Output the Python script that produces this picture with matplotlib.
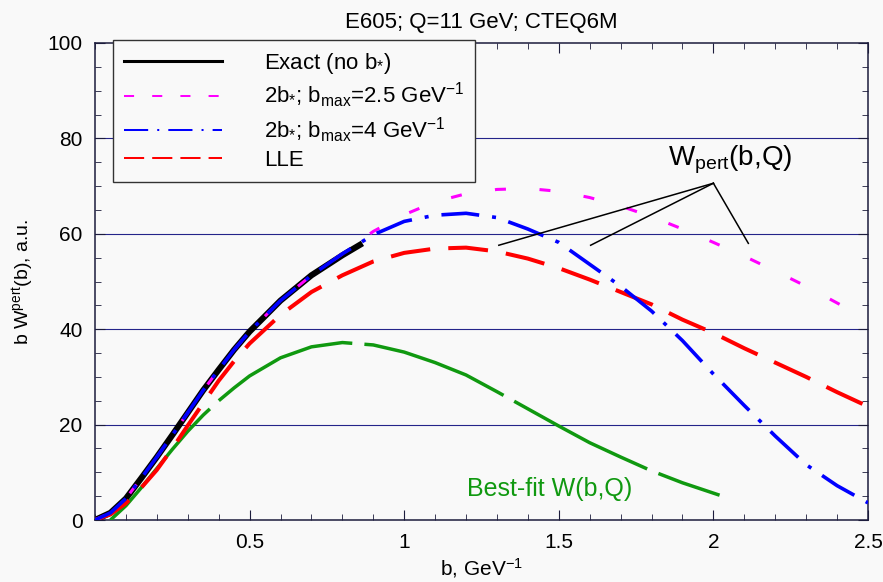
import numpy as np
import matplotlib
matplotlib.use("Agg")
import matplotlib.pyplot as plt
from matplotlib.lines import Line2D
from matplotlib.ticker import MultipleLocator

plt.rcParams['font.family'] = ['Liberation Sans', 'DejaVu Sans']
plt.rcParams['mathtext.default'] = 'regular'

# exact calculation (no b_*), only up to b ~ 0.87
b_exact = [0.0, 0.05, 0.1, 0.15, 0.2, 0.25, 0.3, 0.35, 0.4, 0.45, 0.5, 0.6, 0.7, 0.8, 0.865]
w_exact = [0.0, 1.5, 4.5, 8.8, 13.2, 17.8, 22.5, 27.2, 31.5, 35.7, 39.5, 46.0, 51.3, 55.5, 58.0]

b_grid = [0.0, 0.05, 0.1, 0.15, 0.2, 0.25, 0.3, 0.35, 0.4, 0.45, 0.5, 0.6, 0.7, 0.8, 0.9,
          1.0, 1.1, 1.2, 1.3, 1.4, 1.5, 1.6, 1.7, 1.8, 1.9, 2.0, 2.1, 2.2, 2.3, 2.4, 2.5]
# 2b_*, bmax = 2.5 GeV^-1
w_bmax25 = [0.0, 1.5, 4.5, 8.8, 13.2, 17.8, 22.5, 27.2, 31.5, 35.7, 39.5, 46.0, 51.3, 55.8, 60.5,
            64.0, 66.7, 68.4, 69.3, 69.5, 68.9, 67.6, 65.8, 63.6, 61.0, 58.2, 55.3, 52.2, 49.0, 45.5, 42.0]
# 2b_*, bmax = 4 GeV^-1
w_bmax4 = [0.0, 1.5, 4.5, 8.8, 13.2, 17.8, 22.5, 27.2, 31.5, 35.7, 39.5, 46.0, 51.3, 55.8, 59.8,
           62.6, 63.9, 64.3, 63.4, 61.0, 58.2, 53.6, 49.0, 43.8, 37.6, 30.6, 24.0, 17.6, 11.6, 7.2, 3.6]
# leading-log expansion
w_lle = [0.0, 1.2, 3.5, 6.8, 10.5, 15.0, 19.8, 24.5, 29.2, 33.3, 37.0, 43.0, 47.8, 51.3, 54.2,
         56.0, 56.9, 57.1, 56.3, 54.8, 52.8, 50.4, 47.8, 45.2, 42.0, 39.2, 36.0, 33.0, 30.0, 26.8, 23.8]

# best-fit W(b,Q)
b_fit = [0.05, 0.1, 0.15, 0.2, 0.25, 0.3, 0.35, 0.4, 0.45, 0.5, 0.6, 0.7, 0.8, 0.9, 1.0,
         1.1, 1.2, 1.3, 1.4, 1.5, 1.6, 1.7, 1.8, 1.9, 2.02]
w_fit = [0.0, 3.0, 6.8, 10.8, 14.8, 18.6, 22.0, 25.0, 27.7, 30.2, 34.0, 36.3, 37.2, 36.7, 35.2,
         33.0, 30.4, 26.9, 23.3, 19.7, 16.2, 13.2, 10.3, 7.8, 5.2]

# W_pert label and where its pointer lines end
label_pos = (2.055, 74.4)
pointer_root = (2.0, 70.6)
pointer_ends = [(1.306, 57.6), (1.603, 57.6), (2.113, 58.0)]

bg = '#f9f9f9'
navy = '#24248a'
c_mag, c_blue, c_red, c_green = '#ff00ff', '#0000ff', '#ff0000', '#109910'

fig = plt.figure(figsize=(8.83, 5.82), dpi=100, facecolor=bg)
ax = fig.add_axes([95 / 883, 1 - 520 / 582, 773 / 883, 477 / 582], facecolor=bg)

for y in [20, 40, 60, 80]:
    ax.axhline(y, color=navy, lw=0.8, zorder=1)

# black underneath, the dashed curves sit on top of it
ax.plot(b_exact, w_exact, color='black', lw=4.4, solid_capstyle='butt', zorder=2)
ax.plot(b_fit, w_fit, color=c_green, lw=2.5, dashes=(43, 3.5), zorder=3)
ax.plot(b_grid, w_lle, color=c_red, lw=2.9, dashes=(9.9, 4.5), zorder=3)
ax.plot(b_grid, w_bmax25, color=c_mag, lw=2.2, dashes=(3.6, 11), zorder=4)
ax.plot(b_grid, w_bmax4, color=c_blue, lw=2.6, dashes=(10.5, 3.6, 1.1, 3.6), zorder=4)

for end in pointer_ends:
    ax.plot([pointer_root[0], end[0]], [pointer_root[1], end[1]], color='black', lw=1.1, zorder=6)
ax.text(label_pos[0], label_pos[1], 'W$_{pert}$(b,Q)', fontsize=20, ha='center', va='baseline')
ax.text(1.47, 5.0, 'Best-fit W(b,Q)', fontsize=18, color=c_green, ha='center', va='baseline')

ax.set_xlim(0, 2.5)
ax.set_ylim(0, 100)
ax.set_xticks([0.5, 1, 1.5, 2, 2.5])
ax.set_xticklabels(['0.5', '1', '1.5', '2', '2.5'])
ax.set_yticks([0, 20, 40, 60, 80, 100])
ax.xaxis.set_minor_locator(MultipleLocator(0.1))
ax.yaxis.set_minor_locator(MultipleLocator(5))
ax.tick_params(which='both', direction='in', top=True, right=True, labelsize=15,
               color='#1c1c3c', pad=9)
ax.tick_params(which='major', length=7)
ax.tick_params(which='minor', length=4)
for s in ax.spines.values():
    s.set_color('#1c1c3c')
    s.set_linewidth(1.1)

ax.set_xlabel('b, GeV$^{-1}$', fontsize=15, labelpad=3)
ax.set_ylabel('b W$^{pert}$(b), a.u.', fontsize=14, labelpad=8)
ax.set_title('E605; Q=11 GeV; CTEQ6M', fontsize=16, pad=11)

# legend uses thinner proxy lines than the curves
handles = [
    Line2D([], [], color='black', lw=2.2),
    Line2D([], [], color=c_mag, lw=1.45, dashes=(5, 9)),
    Line2D([], [], color=c_blue, lw=1.45, dashes=(12, 4.5, 1, 4.5)),
    Line2D([], [], color=c_red, lw=1.45, dashes=(10, 4)),
]
labels = ['Exact (no b$_{*}$)',
          '2b$_{*}$; b$_{max}$=2.5 GeV$^{-1}$',
          '2b$_{*}$; b$_{max}$=4 GeV$^{-1}$',
          'LLE']
leg = fig.legend(handles, labels, loc='upper left', bbox_to_anchor=(113 / 883, 1 - 40 / 582),
                 bbox_transform=fig.transFigure, borderaxespad=0, fontsize=16,
                 fancybox=False, framealpha=1, facecolor=bg, edgecolor='#333333',
                 handlelength=4.4, handletextpad=1.9, borderpad=0.5, labelspacing=0.22)
leg.get_frame().set_linewidth(1.0)
leg.set_zorder(10)

fig.savefig('out.png', dpi=100, facecolor=bg)
